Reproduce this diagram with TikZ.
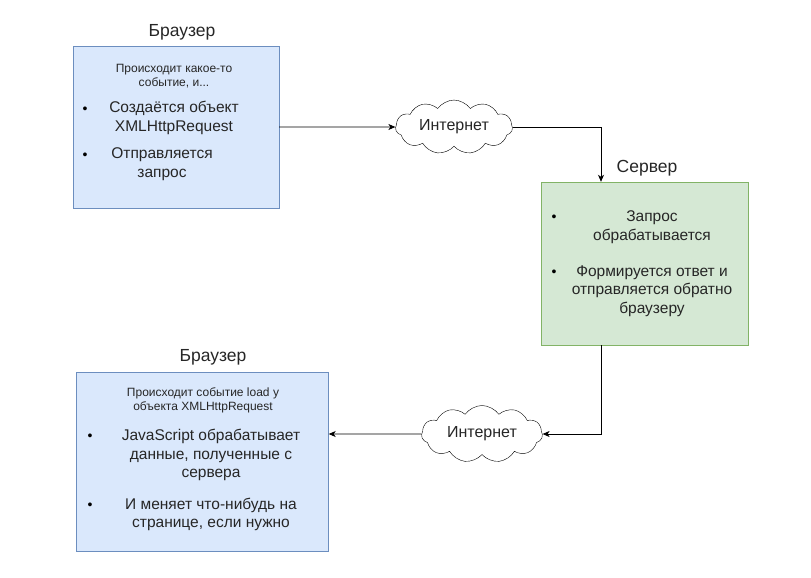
\documentclass[tikz,border=0pt]{standalone}
\usepackage{fontspec}
\setmainfont{Liberation Sans}
\usetikzlibrary{shapes.symbols,arrows.meta}

\definecolor{bluefill}{HTML}{DAE8FC}
\definecolor{blueline}{HTML}{6C8EBF}
\definecolor{greenfill}{HTML}{D5E8D4}
\definecolor{greenline}{HTML}{82B366}

\tikzset{
  panel/.style={draw=blueline, fill=bluefill, inner sep=0pt},
  srvpanel/.style={draw=greenline, fill=greenfill, inner sep=0pt},
  title/.style={font=\fontsize{17.5}{20}\selectfont, text=black!85},
  note/.style={align=center, font=\fontsize{12}{14}\selectfont, text=black!85},
  item/.style={align=center, font=\fontsize{15.5}{18.5}\selectfont, text=black!85},
  dot/.style={font=\fontsize{14}{16}\selectfont, inner sep=0pt},
  net/.style={cloud, cloud puffs=11, cloud puff arc=110, aspect=2.4, draw, fill=white,
    inner sep=0pt, font=\fontsize{16}{18}\selectfont, text=black!85},
  flow/.style={-{Stealth[length=7pt,width=6pt,inset=2pt]}, line width=0.8pt},
}

\begin{document}
\begin{tikzpicture}[x=1pt, y=-1pt]

\useasboundingbox (0,0) rectangle (811,578);

    % browser, request side
    \node[panel, minimum width=206pt, minimum height=162pt] (b1) at (176,127) {};
    \node[title] (t1) at (182,32) {Браузер};
    \node[note] (b1note) at (174,76.5) {Происходит какое-то\\событие, и...};
    \node[dot] (b1d1) at (85,110) {\textbullet};
    \node[item] (b1i1) at (174,118) {Создаётся объект\\XMLHttpRequest};
    \node[dot] (b1d2) at (85,156) {\textbullet};
    \node[item] (b1i2) at (162,164) {Отправляется\\запрос};

    % server
    \node[srvpanel, minimum width=207pt, minimum height=163pt] (srv) at (644.5,263.5) {};
    \node[title] (t2) at (647,168) {Сервер};
    \node[dot] (sd1) at (554,218) {\textbullet};
    \node[item] (si1) at (652,227) {Запрос\\обрабатывается};
    \node[dot] (sd2) at (554,273) {\textbullet};
    \node[item] (si2) at (652,291) {Формируется ответ и\\отправляется обратно\\браузеру};

    % browser, response side
    \node[panel, minimum width=252pt, minimum height=179pt] (b2) at (202.5,461.5) {};
    \node[title] (t3) at (213,357) {Браузер};
    \node[note] (b2note) at (203,400) {Происходит событие load у\\объекта XMLHttpRequest};
    \node[dot] (b2d1) at (90,437) {\textbullet};
    \node[item] (b2i1) at (211,455) {JavaScript обрабатывает\\данные, полученные с\\сервера};
    \node[dot] (b2d2) at (90,506) {\textbullet};
    \node[item] (b2i2) at (211,514.5) {И меняет что-нибудь на\\странице, если нужно};

    % the internet, both ways
    \node[net, minimum width=117pt, minimum height=50pt] (inet1) at (454,127) {Интернет};
    \node[net, minimum width=121pt, minimum height=57pt] (inet2) at (482,434) {Интернет};

    \draw[flow] (b1) -- (inet1);
    \draw[flow] (inet1) -| ([xshift=-43.5pt]srv.north);
    \draw[flow] ([xshift=-43.5pt]srv.south) |- (inet2);
    \draw[flow] (inet2) -- (inet2 -| b2.east);

\end{tikzpicture}
\end{document}
